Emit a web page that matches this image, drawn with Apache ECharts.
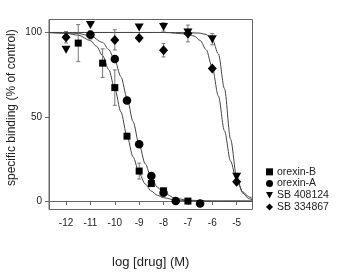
<!DOCTYPE html>
<html>
<head>
<meta charset="utf-8">
<script src="https://cdn.jsdelivr.net/npm/echarts@6/dist/echarts.min.js"></script>
<style>
  html, body { margin: 0; padding: 0; background: #fff; }
  #chart { width: 350px; height: 275px; }
</style>
</head>
<body>
<div id="chart"></div>
<script>
const xTicks = [-12, -11, -10, -9, -8, -7, -6, -5]
const yTicks = [0, 50, 100]

// measured points (log dose, % of control, s.e.m.)
const orexinBX = [-11.5, -10.5, -10, -9.5, -9, -8.5, -8, -7]
const orexinBY = [93.7, 81.8, 67.3, 38.5, 17.8, 10.4, 6.1, 0]
const orexinBErr = [11, 8.5, 10.5, 0, 4.7, 0, 0, 0]

const orexinAX = [-11, -10, -9.5, -9, -8.5, -8, -7.5, -6.5]
const orexinAY = [98.6, 84.3, 59.6, 33.7, 14.8, 4.9, 0, -1.4]
const orexinAErr = [2.5, 0, 0, 0, 0, 0, 0, 0]

const sb408X = [-12, -11, -9, -8, -7, -6, -5]
const sb408Y = [89.7, 104.5, 103, 103.3, 100, 96, 14.4]
const sb408Err = [0, 0, 0, 2.5, 0, 3.3, 0]

const sb334X = [-12, -10, -9, -8, -7, -6, -5]
const sb334Y = [97.2, 95.6, 96.8, 89.5, 99.4, 78.7, 11.4]
const sb334Err = [3.4, 6, 0, 4, 5, 0, 0]

// fitted curves
const fitBX = [-12.7, -12, -11.5, -11, -10.75, -10.5, -10.25, -10, -9.75, -9.5, -9.25, -9, -8.75, -8.5, -8.25, -8, -7.5, -7, -6, -4.35]
const fitBY = [99.9, 99.5, 98.4, 95.2, 91.8, 86.3, 78, 66.6, 52.9, 38.7, 26.2, 16.6, 10.1, 5.9, 3.4, 2, 0.6, 0.2, 0, 0]

const fitAX = [-12.7, -12, -11.5, -11, -10.5, -10.25, -10, -9.75, -9.5, -9.25, -9, -8.75, -8.5, -8.25, -8, -7.5, -7, -6, -4.35]
const fitAY = [100, 99.8, 99.4, 98, 94.1, 89.9, 83.4, 73.8, 61.3, 47.1, 33.4, 22, 13.7, 8.2, 4.8, 1.6, 0.5, 0, 0]

const fit408X = [-12.7, -8, -7, -6.5, -6.25, -6, -5.75, -5.5, -5.25, -5, -4.75, -4.5, -4.35]
const fit408Y = [100, 100, 99.9, 99.6, 98.8, 95.9, 87.3, 66.7, 36.7, 14.4, 4.7, 1.4, 0.7]

const fit334X = [-12.7, -8, -7, -6.75, -6.5, -6.25, -6, -5.75, -5.5, -5.25, -5, -4.75, -4.5, -4.35]
const fit334Y = [100, 100, 99.1, 97.9, 95.3, 89.8, 79.2, 62.3, 41.7, 23.7, 11.9, 5.5, 2.5, 1.5]

const triDown = 'path://M0,0 L10,0 L5,9 Z'
const diamond = 'path://M5,0 L10,5 L5,10 L0,5 Z'

const zip = (xs, ys) => xs.map((x, i) => [x, ys[i]])
const errData = []
;[[orexinBX, orexinBY, orexinBErr], [orexinAX, orexinAY, orexinAErr],
  [sb408X, sb408Y, sb408Err], [sb334X, sb334Y, sb334Err]].forEach(s => {
  s[0].forEach((x, i) => {
    if (s[2][i] > 0) errData.push([x, s[1][i], s[2][i]])
  })
})

const chart = echarts.init(document.getElementById('chart'))
const font = 'Liberation Sans, Arial, sans-serif'

function curve(name, xs, ys) {
  return {
    name: name,
    type: 'line',
    data: zip(xs, ys),
    smooth: 0.3,
    smoothMonotone: 'x',
    showSymbol: false,
    silent: true,
    z: 1,
    lineStyle: { color: '#444', width: 1 }
  }
}

function points(name, xs, ys, symbol, size) {
  return {
    name: name,
    type: 'scatter',
    data: zip(xs, ys),
    symbol: symbol,
    symbolSize: size,
    z: 3,
    itemStyle: { color: '#000', opacity: 1 }
  }
}

chart.setOption({
  animation: false,
  textStyle: { fontFamily: font },
  grid: {
    left: 49, top: 19.5, right: 97.5, bottom: 65.5,
    show: true, borderColor: '#666', borderWidth: 1
  },
  xAxis: {
    type: 'value',
    min: -12.7,
    max: -4.35,
    name: 'log [drug] (M)',
    nameLocation: 'middle',
    nameGap: 46,
    nameTextStyle: { fontSize: 13, color: '#222', fontFamily: font },
    splitLine: { show: false },
    axisLine: { lineStyle: { color: '#666' } },
    axisTick: { show: true, length: 4, inside: false, customValues: xTicks, lineStyle: { color: '#666' } },
    axisLabel: { customValues: xTicks, fontSize: 10, color: '#222', margin: 9, fontFamily: font }
  },
  yAxis: {
    type: 'value',
    min: -5,
    max: 107.7,
    splitLine: { show: false },
    axisLine: { lineStyle: { color: '#666' } },
    axisTick: { show: true, length: 4, inside: false, customValues: yTicks, lineStyle: { color: '#666' } },
    axisLabel: { customValues: yTicks, fontSize: 10, color: '#222', margin: 7, fontFamily: font }
  },
  graphic: [{
    type: 'text',
    style: {
      text: 'specific binding (% of control)',
      fontSize: 12,
      fill: '#222',
      fontFamily: font
    },
    rotation: Math.PI / 2,
    x: 6, y: 186
  }],
  legend: {
    orient: 'vertical',
    left: 261,
    top: 161,
    itemWidth: 7,
    itemHeight: 7,
    itemGap: 0,
    textStyle: { fontSize: 10.5, color: '#222', lineHeight: 11.7, fontFamily: font, padding: [0, 0, 0, -1] },
    data: [
      { name: 'orexin-B', icon: 'rect' },
      { name: 'orexin-A', icon: 'circle' },
      { name: 'SB 408124', icon: triDown },
      { name: 'SB 334867', icon: diamond }
    ]
  },
  series: [
    curve('fitB', fitBX, fitBY),
    curve('fitA', fitAX, fitAY),
    curve('fit408', fit408X, fit408Y),
    curve('fit334', fit334X, fit334Y),
    {
      name: 'errors',
      type: 'custom',
      z: 2,
      silent: true,
      data: errData,
      renderItem: function (params, api) {
        const x = api.value(0)
        const y = api.value(1)
        const e = api.value(2)
        const top = api.coord([x, y + e])
        const bot = api.coord([x, y - e])
        const c = 2
        const st = { stroke: '#777', lineWidth: 1 }
        return {
          type: 'group',
          children: [
            { type: 'line', shape: { x1: top[0], y1: top[1], x2: bot[0], y2: bot[1] }, style: st },
            { type: 'line', shape: { x1: top[0] - c, y1: top[1], x2: top[0] + c, y2: top[1] }, style: st },
            { type: 'line', shape: { x1: bot[0] - c, y1: bot[1], x2: bot[0] + c, y2: bot[1] }, style: st }
          ]
        }
      }
    },
    points('orexin-B', orexinBX, orexinBY, 'rect', 7),
    points('orexin-A', orexinAX, orexinAY, 'circle', 8.5),
    points('SB 408124', sb408X, sb408Y, triDown, [9, 8]),
    points('SB 334867', sb334X, sb334Y, diamond, [9, 10])
  ]
})
</script>
</body>
</html>
